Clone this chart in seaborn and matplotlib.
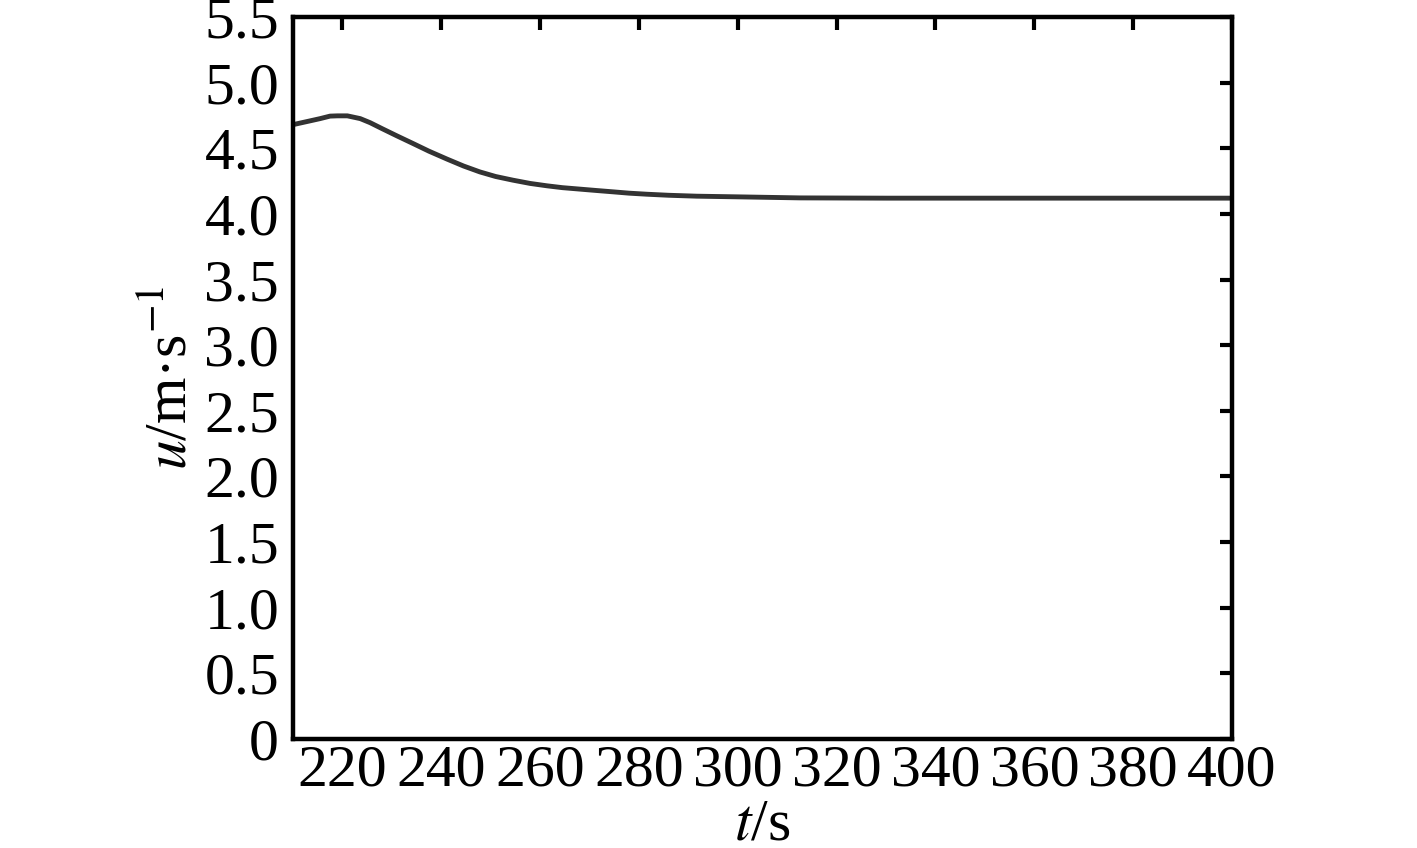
import numpy as np
import pandas as pd
import matplotlib
matplotlib.use("Agg")
import matplotlib.pyplot as plt
import seaborn as sns

# values
t_s = [210, 213, 215.5, 217.5, 219, 221, 223.6, 225.6, 228, 231, 234.3, 237.5,
       241.2, 244.5, 247.8, 251, 254.5, 258, 261.4, 264.5, 268, 271.5, 274.8,
       278, 281.6, 286, 291.7, 300, 312.6, 330, 360, 400]
u_ms = [4.68, 4.705, 4.726, 4.745, 4.747, 4.747, 4.726, 4.695, 4.65, 4.595, 4.536,
        4.478, 4.417, 4.365, 4.32, 4.285, 4.257, 4.232, 4.214, 4.20, 4.189,
        4.178, 4.168, 4.158, 4.15, 4.142, 4.135, 4.13, 4.122, 4.12, 4.12, 4.12]
x_ticks = [220, 240, 260, 280, 300, 320, 340, 360, 380, 400]
y_ticks = [0, 0.5, 1.0, 1.5, 2.0, 2.5, 3.0, 3.5, 4.0, 4.5, 5.0, 5.5]
y_tick_labels = ["0", "0.5", "1.0", "1.5", "2.0", "2.5", "3.0", "3.5", "4.0", "4.5", "5.0", "5.5"]

df = pd.DataFrame({"t": t_s, "u": u_ms})

sns.set_style("white")
plt.rcParams['font.family'] = ['Liberation Serif', 'DejaVu Serif']
plt.rcParams['mathtext.fontset'] = 'stix'
plt.rcParams['text.color'] = 'black'
plt.rcParams['axes.labelcolor'] = 'black'
plt.rcParams['xtick.color'] = 'black'
plt.rcParams['ytick.color'] = 'black'

fig = plt.figure(figsize=(14.17, 8.48), dpi=100)
ax = fig.add_axes([293 / 1417, 1 - 739 / 848, (1232 - 293) / 1417, (739 - 17) / 848])

sns.lineplot(ax=ax, data=df, x="t", y="u", color="#333333", linewidth=3.5)

ax.set_xlim(210, 400)
ax.set_ylim(0, 5.5)
ax.set_xticks(x_ticks)
ax.set_yticks(y_ticks)
ax.set_yticklabels(y_tick_labels)

for sp in ax.spines.values():
    sp.set_visible(True)
    sp.set_color("black")
    sp.set_linewidth(3.2)

ax.tick_params(axis="both", direction="in", length=9, width=3, colors="black",
               labelsize=43, top=True, right=True)
ax.tick_params(axis="y", pad=10)
ax.tick_params(axis="x", pad=4)

ax.set_xlabel(r"$t$/s", fontsize=43, labelpad=0)
ax.set_ylabel(r"$u$/m·s$^{-1}$", fontsize=43, labelpad=4)

fig.savefig("out.png", dpi=100)
